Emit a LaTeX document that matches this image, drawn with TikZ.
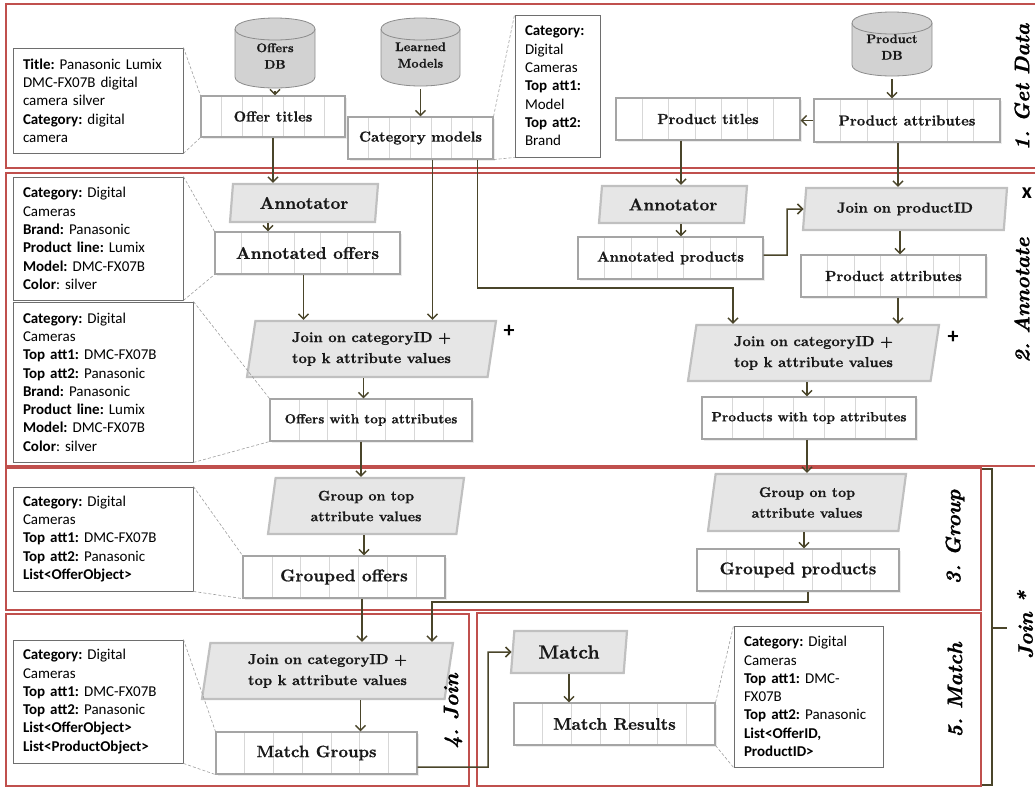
\documentclass[tikz,border=0pt]{standalone}
\usepackage{fontspec}
\setmainfont{lmroman10}[Extension=.otf, UprightFont=*-regular, BoldFont=*-bold, ItalicFont=*-italic, BoldItalicFont=*-bolditalic, BoldFeatures={FakeBold=0.7}]
\newfontfamily\sidefont{lmroman10-bolditalic}[Extension=.otf, FakeBold=1.2]
\newfontfamily\notefont{Carlito}
\usetikzlibrary{shapes.geometric,arrows.meta,shadows,calc}
\definecolor{secred}{RGB}{192,80,77}
\definecolor{arrcol}{RGB}{74,69,42}
\definecolor{boxgray}{RGB}{165,165,165}
\definecolor{cellgray}{RGB}{215,215,215}
\definecolor{parafill}{RGB}{230,230,230}
\definecolor{paragray}{RGB}{192,192,192}
\definecolor{cylfill}{RGB}{210,210,210}
\definecolor{cylgray}{RGB}{140,140,140}
\definecolor{notegray}{RGB}{110,110,110}
\definecolor{txt}{RGB}{25,25,25}
\newcommand\myfz[2]{\fontsize{#1}{#2}\selectfont}
\newcommand\mycyl[6]{%
 \filldraw[cylstyle] ({#2-#5},{#3+11}) -- ({#2-#5},{#4-11}) .. controls ({#2-#5},{#4+3.67}) and ({#2+#5},{#4+3.67}) .. ({#2+#5},{#4-11}) -- ({#2+#5},{#3+11}) .. controls ({#2+#5},{#3-3.67}) and ({#2-#5},{#3-3.67}) .. ({#2-#5},{#3+11}) -- cycle;
 \draw[cylstyle] ({#2-#5},{#3+11}) .. controls ({#2-#5},{#3+25.67}) and ({#2+#5},{#3+25.67}) .. ({#2+#5},{#3+11});
 \node[cyltext, minimum width={2*#5}, minimum height={#4-#3}] (#1) at (#2,{(#3+#4)/2+3}) {#6};
}
\tikzset{
 sect/.style={draw=secred, line width=1.3},
 tbox/.style={draw=boxgray, line width=1.1, fill=white, inner sep=0, text=txt,
   font=\myfz{14.5}{18}\bfseries,
   drop shadow={opacity=0.15, shadow xshift=2pt, shadow yshift=-2pt},
   path picture={\foreach \k in {1,...,6}{\draw[cellgray, line width=0.6] ($(path picture bounding box.north west)!\k/7!(path picture bounding box.north east)$) -- ($(path picture bounding box.south west)!\k/7!(path picture bounding box.south east)$);}}},
 para/.style={trapezium, trapezium left angle=76, trapezium right angle=104, trapezium stretches body,
   draw=paragray, line width=2.2, fill=parafill, inner sep=0, text=txt, align=center,
   font=\myfz{14.5}{21}\bfseries},
 note/.style={draw=notegray, line width=0.9, fill=white, font=\notefont\myfz{15}{18.3}, align=left,
   inner xsep=10, inner ysep=0, text=black},
 dashlink/.style={draw=gray!75, line width=0.6, dash pattern=on 3pt off 2pt},
 arr/.style={draw=arrcol, line width=1.5, -{Straight Barb[length=5pt,width=10pt]}},
 bracketline/.style={draw=arrcol, line width=2},
 cylstyle/.style={draw=cylgray, line width=0.8, fill=cylfill},
 cyltext/.style={inner sep=0, align=center, text=txt, font=\myfz{12.5}{16.5}\bfseries},
 side/.style={rotate=90, font=\sidefont\myfz{21}{25}\frenchspacing, text=black, inner sep=0},
 opsym/.style={font=\notefont\myfz{22}{24}\bfseries, inner sep=0, text=black}
}
\begin{document}
\frenchspacing
\begin{tikzpicture}[x=1pt,y=-1pt]
\useasboundingbox (0,0) rectangle (1035,788);

% section frames
\draw[sect] (1035,4) -- (6,4) -- (6,168) -- (1035,168);
\draw[sect] (1035,173) -- (6,173) -- (6,466) -- (1035,466);
\draw[sect] (6,468) rectangle (981,610);
\draw[sect] (6,614) rectangle (469,786);
\draw[sect] (477,613) rectangle (981,786);

% cylinders
\mycyl{offersdb}{275}{18}{88}{40}{Offers\\DB}
\mycyl{learned}{420.5}{18}{86}{39.5}{Learned\\Models}
\mycyl{productdb}{892}{12}{76}{40}{Product\\DB}

% table boxes
\node[tbox, minimum width=144, minimum height=41] (offertitles) at (273,116.5) {Offer titles};
\node[tbox, minimum width=145, minimum height=42] (catmodels) at (420.5,138) {Category models};
\node[tbox, minimum width=184, minimum height=42] (prodtitles) at (708,119) {Product titles};
\node[tbox, minimum width=186, minimum height=43] (prodattr1) at (907,120.5) {Product attributes};
\node[tbox, minimum width=185, minimum height=42, font=\myfz{17}{20}\bfseries] (annoffers) at (307.5,253) {Annotated offers};
\node[tbox, minimum width=185, minimum height=42] (annprod) at (670.5,258) {Annotated products};
\node[tbox, minimum width=185, minimum height=42] (prodattr2) at (893.5,276) {Product attributes};
\node[tbox, minimum width=202, minimum height=42, font=\myfz{13.3}{16}\bfseries] (owta) at (371,420) {Offers with top attributes};
\node[tbox, minimum width=214, minimum height=42, font=\myfz{13.4}{16}\bfseries] (pwta) at (809,418) {Products with top attributes};
\node[tbox, minimum width=202, minimum height=42, font=\myfz{17}{20}\bfseries] (groupedoffers) at (344,577) {Grouped offers};
\node[tbox, minimum width=202, minimum height=42, font=\myfz{17}{20}\bfseries] (groupedprod) at (798,570) {Grouped products};
\node[tbox, minimum width=201, minimum height=42, font=\myfz{16.5}{20}\bfseries] (matchgroups) at (316.5,753) {Match Groups};
\node[tbox, minimum width=201, minimum height=42, font=\myfz{16.8}{20}\bfseries] (matchresults) at (614.5,724) {Match Results};

% parallelograms
\node[para, minimum width=148, minimum height=38, font=\myfz{17}{20}\bfseries] (annotatorL) at (304,203) {Annotator};
\node[para, minimum width=148, minimum height=37, font=\myfz{17}{20}\bfseries] (annotatorR) at (673,204.5) {Annotator};
\node[para, minimum width=204, minimum height=42] (joinpid) at (905,209) {Join on productID};
\node[para, minimum width=249, minimum height=56] (joinL) at (371.5,349) {Join on categoryID +\\top k attribute values};
\node[para, minimum width=251, minimum height=56] (joinR) at (813.5,353) {Join on categoryID +\\top k attribute values};
\node[para, minimum width=196, minimum height=56, font=\myfz{14}{20.7}\bfseries] (groupL) at (366,506) {Group on top\\attribute values};
\node[para, minimum width=198, minimum height=57, font=\myfz{14}{20.7}\bfseries] (groupR) at (807,502.5) {Group on top\\attribute values};
\node[para, minimum width=251, minimum height=56] (join4) at (327.5,671) {Join on categoryID +\\top k attribute values};
\node[para, minimum width=116, minimum height=42, font=\myfz{19}{22}\bfseries] (match) at (569,652) {Match};

% notes
\node[note, minimum width=170, minimum height=105, text width=150] (nTitle) at (98,100.5)
 {\textbf{Title:} Panasonic Lumix\\DMC-FX07B digital\\camera silver\\\textbf{Category:} digital\\camera};
\node[note, minimum width=85, minimum height=142, text width=65] (nCat) at (557.5,86)
 {\textbf{Category:}\\Digital\\Cameras\\\textbf{Top att1:}\\Model\\\textbf{Top att2:}\\Brand};
\node[note, minimum width=170, minimum height=123, text width=150] (nAnn) at (98,238.5)
 {\textbf{Category:} Digital\\Cameras\\\textbf{Brand:} Panasonic\\\textbf{Product line:} Lumix\\\textbf{Model:} DMC-FX07B\\\textbf{Color}: silver};
\node[note, minimum width=180, minimum height=160, text width=160] (nTop) at (103,382)
 {\textbf{Category:} Digital\\Cameras\\\textbf{Top att1:} DMC-FX07B\\\textbf{Top att2:} Panasonic\\\textbf{Brand:} Panasonic\\\textbf{Product line:} Lumix\\\textbf{Model:} DMC-FX07B\\\textbf{Color}: silver};
\node[note, minimum width=180, minimum height=104, text width=160] (nGroup) at (103,539)
 {\textbf{Category:} Digital\\Cameras\\\textbf{Top att1:} DMC-FX07B\\\textbf{Top att2:} Panasonic\\\textbf{List<OfferObject>}};
\node[note, minimum width=170, minimum height=123, text width=150] (nJoin) at (98,701.5)
 {\textbf{Category:} Digital\\Cameras\\\textbf{Top att1:} DMC-FX07B\\\textbf{Top att2:} Panasonic\\\textbf{List<OfferObject>}\\\textbf{List<ProductObject>}};
\node[note, minimum width=149, minimum height=141, text width=129] (nMatch) at (808.5,696.5)
 {\textbf{Category:} Digital\\Cameras\\\textbf{Top att1:} DMC-\\FX07B\\\textbf{Top att2:} Panasonic\\\textbf{List<OfferID,}\\\textbf{ProductID>}};

% dashed callout links
\draw[dashlink] (nTitle.north east) -- (offertitles.north west);
\draw[dashlink] (nTitle.south east) -- (offertitles.south west);
\draw[dashlink] (catmodels.north east) -- (nCat.north west);
\draw[dashlink] (catmodels.south east) -- (nCat.south west);
\draw[dashlink] (nAnn.north east) -- (annoffers.north west);
\draw[dashlink] (nAnn.south east) -- (annoffers.south west);
\draw[dashlink] (nTop.north east) -- (owta.north west);
\draw[dashlink] (nTop.south east) -- (owta.south west);
\draw[dashlink] (nGroup.north east) -- (groupedoffers.north west);
\draw[dashlink] (nGroup.south east) -- (groupedoffers.south west);
\draw[dashlink] (nJoin.north east) -- (matchgroups.north west);
\draw[dashlink] (nJoin.south east) -- (matchgroups.south west);
\draw[dashlink] (matchresults.north east) -- (nMatch.north west);
\draw[dashlink] (matchresults.south east) -- (nMatch.south west);

% arrows
\draw[arr] (offersdb.south) -- (offersdb.south |- offertitles.north);
\draw[arr] (learned.south) -- (learned.south |- catmodels.north);
\draw[arr] (offertitles.south) -- (offertitles.south |- annotatorL.north);
\draw[arr] ($(offertitles.south |- annotatorL.south)+(-5,0)$) -- ($(offertitles.south |- annoffers.north)+(-5,0)$);
\draw[arr] ($(annoffers.south)+(-4,0)$) -- ($(annoffers.south |- joinL.north)+(-4,0)$);
\draw[arr] ($(catmodels.south)+(12,0)$) -- ($(catmodels.south |- joinL.north)+(12,0)$);
\coordinate (bendA) at (733,288);
\draw[arr] ($(catmodels.south)+(57,0)$) |- (bendA) -- (bendA |- joinR.north);
\draw[arr] ($(joinL.south)+(-8,0)$) -- ($(joinL.south |- owta.north)+(-8,0)$);
\draw[arr] ($(owta.south)+(-10,0)$) -- ($(owta.south |- groupL.north)+(-10,0)$);
\draw[arr] ($(groupL.south)+(-2,0)$) -- ($(groupL.south |- groupedoffers.north)+(-2,0)$);
\draw[arr] ($(groupedoffers.south)+(18,0)$) -- ($(groupedoffers.south |- join4.north)+(18,0)$);
\coordinate (bendB) at (432,602);
\draw[arr] ($(groupedprod.south)+(10,0)$) |- (bendB) -- (bendB |- join4.north);
\draw[arr] ($(join4.south)+(33,0)$) -- ($(join4.south |- matchgroups.north)+(33,0)$);
\coordinate (bendC) at (488,652);
\draw[arr] ($(matchgroups.east)+(0,14)$) -| (bendC) -- (match.west);
\draw[arr] (match.south) -- (match.south |- matchresults.north);
\draw[arr] (productdb.south) -- (productdb.south |- prodattr1.north);
\draw[arr] (prodattr1.west) -- (prodtitles.east |- prodattr1.west);
\draw[arr] ($(prodtitles.south)+(-27,0)$) -- ($(prodtitles.south |- annotatorR.north)+(-27,0)$);
\draw[arr] ($(prodtitles.south |- annotatorR.south)+(-27,0)$) -- ($(prodtitles.south |- annprod.north)+(-27,0)$);
\draw[arr] ($(prodattr1.south)+(-9,0)$) -- ($(prodattr1.south |- joinpid.north)+(-9,0)$);
\coordinate (bendD) at (787,209);
\draw[arr] ($(annprod.east)+(0,-3)$) -| (bendD) -- (joinpid.west);
\draw[arr] ($(joinpid.south)+(-5,0)$) -- ($(joinpid.south |- prodattr2.north)+(-5,0)$);
\draw[arr] ($(prodattr2.south)+(4.5,0)$) -- ($(prodattr2.south |- joinR.north)+(4.5,0)$);
\draw[arr] ($(joinR.south)+(-6.5,0)$) -- ($(joinR.south |- pwta.north)+(-6.5,0)$);
\draw[arr] ($(pwta.south)+(-2,0)$) -- ($(pwta.south |- groupR.north)+(-2,0)$);
\draw[arr] ($(groupR.south)+(-3,0)$) -- ($(groupR.south |- groupedprod.north)+(-3,0)$);

% join bracket
\draw[bracketline] (982,469) -- (992,469) -- (992,785) -- (982,785);
\draw[bracketline] (992,628) -- (1007,628);

% operator symbols
\node[opsym] (xsym) at (1027,193) {x};
\node[opsym] (plusL) at (509,331) {+};
\node[opsym] (plusR) at (953,337) {+};

% side labels
\node[side] (lbl1) at (1022,87) {1. Get Data};
\node[side] (lbl2) at (1022,300) {2. Annotate};
\node[side] (lbl3) at (955,537) {3. Group};
\node[side] (lbl4) at (453,711) {4. Join};
\node[side] (lbl5) at (955,690) {5. Match};
\node[side] (lbl6) at (1025,625) {Join *};
\end{tikzpicture}
\end{document}
